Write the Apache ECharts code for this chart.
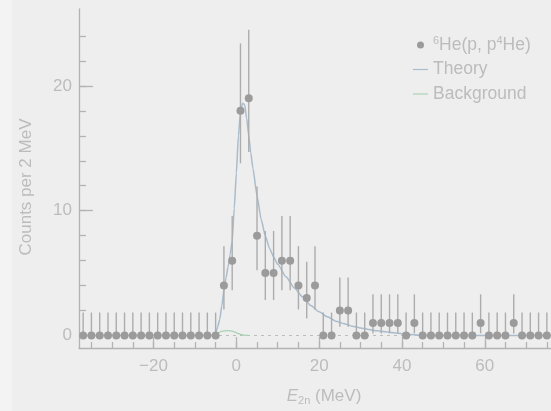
<!DOCTYPE html>
<html>
<head>
<meta charset="utf-8">
<script src="https://cdn.jsdelivr.net/npm/echarts@6/dist/echarts.min.js"></script>
<style>
html,body{margin:0;padding:0;background:#eeeeee;}
#c{width:551px;height:411px;}
</style>
</head>
<body>
<div id="c"></div>
<script>
// ---- data ----
var binCenters = [-37,-35,-33,-31,-29,-27,-25,-23,-21,-19,-17,-15,-13,-11,-9,-7,-5,
  -3,-1,1,3,5,7,9,11,13,15,17,19,21,23,25,27,29,31,33,35,37,39,41,43,
  45,47,49,51,53,55,57,59,61,63,65,67,69,71,73,75];
var counts = [0,0,0,0,0,0,0,0,0,0,0,0,0,0,0,0,0,
  4,6,18,19,8,5,5,6,6,4,3,4,0,0,2,2,0,0,1,1,1,1,0,1,
  0,0,0,0,0,0,0,1,0,0,0,1,0,0,0,0];
var errLow = [0,0,0,0,0,0,0,0,0,0,0,0,0,0,0,0,0,
  2.09,3.62,13.8,14.7,5.22,2.84,2.84,3.62,3.62,2.09,1.37,2.09,0,0,0.71,0.71,0,0,0.17,0.17,0.17,0.17,0,0.17,
  0,0,0,0,0,0,0,0.17,0,0,0,0.17,0,0,0,0];
var errHigh = [1.84,1.84,1.84,1.84,1.84,1.84,1.84,1.84,1.84,1.84,1.84,1.84,1.84,1.84,1.84,1.84,1.84,
  7.16,9.58,23.4,24.5,11.94,8.38,8.38,9.58,9.58,7.16,5.92,7.16,1.84,1.84,4.64,4.64,1.84,1.84,3.3,3.3,3.3,3.3,1.84,3.3,
  1.84,1.84,1.84,1.84,1.84,1.84,1.84,3.3,1.84,1.84,1.84,3.3,1.84,1.84,1.84,1.84];
var theoryX = [-38,-5.5,-5,-4.5,-4,-3.5,-3,-2.5,-2,-1.5,-1,-0.5,0,0.5,1,1.5,2,2.5,3,3.5,4,5,6,7,8,9,10,12,14,16,18,20,22,24,26,28,30,32,34,36,38,40,42,44,46,76];
var theoryY = [0,0,0.2,0.7,1.3,2.4,3.6,4.6,5.5,6.5,7.6,10.2,13,16,17.9,18.6,18.5,17.4,16,14.6,13.4,11.2,9.3,8.0,7.0,6.3,5.7,4.7,3.8,3.1,2.4,1.9,1.5,1.15,0.95,0.75,0.6,0.48,0.38,0.3,0.22,0.15,0.08,0.03,0,0];
var bgX = [-6,-5,-4.5,-4,-3,-2,-1,0,1,2,3];
var bgY = [0,0.03,0.15,0.28,0.38,0.4,0.35,0.22,0.1,0.03,0];
var xMinorTicks = [-35,-30,-25,-20,-15,-10,-5,0,5,10,15,20,25,30,35,40,45,50,55,60,65,70,75];
var xMajorTicks = [-20,0,20,40,60];
var yMinorTicks = [0,2,4,6,8,10,12,14,16,18,20,22,24];
var yMajorTicks = [0,10,20];

// ---- styles ----
var axisCol = '#b3b3b3';
var textCol = '#bcbcbc';
var font = 'Liberation Sans, Arial, Helvetica, sans-serif';

function zip(a, b) { return a.map(function (v, i) { return [v, b[i]]; }); }

var chart = echarts.init(document.getElementById('c'), null, {renderer: 'canvas'});

var xBase = {min: -38, max: 76, type: 'value', gridIndex: 0, splitLine: {show: false}};
var yBase = {min: -1, max: 26.16, type: 'value', gridIndex: 0, splitLine: {show: false}};

var option = {
  backgroundColor: '#eeeeee',
  animation: false,
  textStyle: {fontFamily: font},
  graphic: [{type: 'rect', left: 0, top: 0, shape: {width: 12, height: 411}, style: {fill: '#f3f3f3'}, silent: true, z: -10}],
  grid: {left: 79, right: 0, top: 9, bottom: 62, containLabel: false},
  xAxis: [
    Object.assign({}, xBase, {
      position: 'bottom',
      axisLine: {show: true, onZero: false, lineStyle: {color: axisCol, width: 1.3}},
      axisTick: {show: true, inside: true, length: 6, customValues: xMinorTicks, lineStyle: {color: axisCol, width: 1.3}},
      axisLabel: {show: true, customValues: xMajorTicks, margin: 10, color: textCol, fontSize: 17, fontFamily: font,
        formatter: function (v) { return v < 0 ? '\u2212' + Math.abs(v) : String(v); }},
      name: '{i|E}{sub|2n}{n| (MeV)}',
      nameLocation: 'middle',
      nameGap: 38,
      nameTextStyle: {color: textCol, fontSize: 17, fontFamily: font, padding: [0, 0, 0, 18],
        rich: {
          i: {fontStyle: 'italic', fontSize: 17, color: textCol, fontFamily: font, lineHeight: 20},
          sub: {fontSize: 11, color: textCol, fontFamily: font, verticalAlign: 'bottom', lineHeight: 14, padding: [6, 0, 0, 0]},
          n: {fontSize: 17, color: textCol, fontFamily: font, lineHeight: 20}
        }}
    }),
    Object.assign({}, xBase, {
      position: 'bottom',
      axisLine: {show: false, onZero: false},
      axisTick: {show: true, inside: true, length: 11, customValues: xMajorTicks, lineStyle: {color: axisCol, width: 1.3}},
      axisLabel: {show: false}
    })
  ],
  yAxis: [
    Object.assign({}, yBase, {
      position: 'left',
      axisLine: {show: true, onZero: false, lineStyle: {color: axisCol, width: 1.3}},
      axisTick: {show: true, inside: true, length: 7, customValues: yMinorTicks, lineStyle: {color: axisCol, width: 1.3}},
      axisLabel: {show: true, customValues: yMajorTicks, margin: 7, color: textCol, fontSize: 17, fontFamily: font},
      name: 'Counts per 2 MeV',
      nameLocation: 'middle',
      nameGap: 44,
      nameTextStyle: {color: textCol, fontSize: 17, fontFamily: font, padding: [0, 17, 0, 0]}
    }),
    Object.assign({}, yBase, {
      position: 'left',
      axisLine: {show: false, onZero: false},
      axisTick: {show: true, inside: true, length: 14, customValues: yMajorTicks, lineStyle: {color: axisCol, width: 1.3}},
      axisLabel: {show: false}
    })
  ],
  legend: {
    orient: 'vertical',
    left: 408,
    top: 30,
    itemWidth: 15,
    itemHeight: 7,
    itemGap: 6.5,
    selectedMode: false,
    data: [
      {name: 'He', icon: 'circle', itemStyle: {color: '#9b9b9b'}},
      {name: 'Theory', icon: 'path://M0,0h15v1.2h-15z', itemStyle: {color: '#a9bccd'}},
      {name: 'Background', icon: 'path://M0,0h15v1.2h-15z', itemStyle: {color: '#a9d2b4'}}
    ],
    formatter: function (name) {
      if (name === 'He') return '{s|6}{n|He(p, p}{s|4}{n|He)}';
      return '{n|' + name + '}';
    },
    textStyle: {
      color: textCol, fontSize: 17, fontFamily: font,
      rich: {
        n: {fontSize: 17.5, color: textCol, fontFamily: font, lineHeight: 20},
        s: {fontSize: 11, color: textCol, fontFamily: font, verticalAlign: 'top', lineHeight: 20, padding: [0, 0, 8, 0]}
      }
    }
  },
  series: [
    {
      name: 'Zero', type: 'line', xAxisIndex: 0, yAxisIndex: 0,
      data: [[-38, 0], [76, 0]], symbol: 'none', silent: true,
      lineStyle: {color: '#bdbdbd', width: 1.2, type: [3, 4]}, z: 1
    },
    {
      name: 'Background', type: 'line', xAxisIndex: 0, yAxisIndex: 0,
      data: zip(bgX, bgY), symbol: 'none', smooth: 0.3,
      lineStyle: {color: '#a9d2b4', width: 1.3}, itemStyle: {color: '#a9d2b4'}, z: 2
    },
    {
      name: 'Theory', type: 'line', xAxisIndex: 0, yAxisIndex: 0,
      data: zip(theoryX, theoryY), symbol: 'none', smooth: 0.2, smoothMonotone: 'x',
      lineStyle: {color: '#a9bccd', width: 1.5}, itemStyle: {color: '#a9bccd'}, z: 3
    },
    {
      name: 'Errors', type: 'custom', xAxisIndex: 0, yAxisIndex: 0,
      data: binCenters.map(function (x, i) { return [x, errLow[i], errHigh[i]]; }),
      renderItem: function (params, api) {
        var p1 = api.coord([api.value(0), api.value(1)]);
        var p2 = api.coord([api.value(0), api.value(2)]);
        return {type: 'line', shape: {x1: p1[0], y1: p1[1], x2: p2[0], y2: p2[1]},
          style: {stroke: '#acacac', lineWidth: 1.4}};
      },
      silent: true, z: 4
    },
    {
      name: 'He', type: 'scatter', xAxisIndex: 0, yAxisIndex: 0,
      data: zip(binCenters, counts), symbol: 'circle', symbolSize: 8,
      itemStyle: {color: '#9b9b9b', opacity: 1}, z: 5
    }
  ]
};
chart.setOption(option);
</script>
</body>
</html>
